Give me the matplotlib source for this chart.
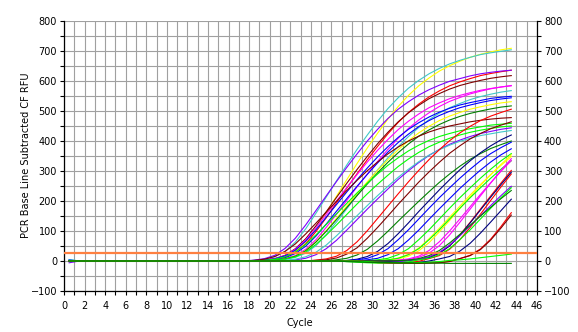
import numpy as np
import matplotlib
matplotlib.use("Agg")
import matplotlib.pyplot as plt
from matplotlib.ticker import MultipleLocator

CYCLES = np.arange(1, 45)
THRESHOLD = 27

YELLOW = "#FFFF00"; CYAN = "#40C8C8"; RED = "#FF0000"; PURPLE = "#8000FF"
DKRED = "#800000"; MAGENTA = "#FF00FF"; BLUE = "#0000FF"; DKGREEN = "#008000"
LIME = "#00FF00"; NAVY = "#000080"

# each well: (colour, cycle-1 reading, first cycle of listed readings, readings up to cycle 44)
yellow_top = (YELLOW, 0, 20, [2, 6, 15, 33, 64, 109, 161, 216, 271, 325, 377, 426, 473, 515, 552, 584, 610, 633, 651, 666, 679, 689, 697, 704, 709])
cyan_top = (CYAN, 5, 19, [2, 6, 14, 32, 63, 107, 159, 213, 267, 320, 372, 420, 466, 508, 544, 576, 602, 624, 642, 657, 669, 679, 688, 694, 699, 704])
red_early = (RED, 0, 20, [2, 5, 13, 29, 57, 98, 144, 194, 243, 291, 338, 382, 424, 462, 495, 523, 547, 567, 584, 597, 608, 618, 625, 631, 636])
purple_early = (PURPLE, -6, 19, [3, 8, 19, 42, 76, 120, 168, 217, 265, 312, 357, 400, 439, 475, 506, 531, 553, 571, 586, 599, 608, 617, 624, 629, 633, 636])
dkred_early = (DKRED, 0, 20, [3, 8, 19, 41, 74, 117, 164, 212, 259, 305, 349, 391, 429, 464, 494, 519, 541, 558, 573, 585, 594, 602, 609, 614, 618])
magenta_early = (MAGENTA, 0, 20, [3, 8, 18, 39, 70, 111, 155, 200, 245, 288, 330, 369, 405, 438, 466, 490, 511, 527, 541, 552, 561, 569, 575, 580, 584])
magenta_early2 = (MAGENTA, 0, 21, [3, 8, 18, 39, 71, 112, 156, 202, 247, 290, 332, 372, 409, 442, 470, 494, 515, 532, 545, 557, 566, 574, 580, 585])
cyan_566 = (CYAN, 4, 21, [2, 5, 12, 26, 51, 88, 130, 174, 219, 262, 304, 344, 381, 415, 445, 471, 493, 511, 525, 538, 548, 556, 563, 568])
blue_1 = (BLUE, 3, 20, [3, 7, 17, 36, 66, 104, 146, 188, 230, 271, 310, 347, 381, 412, 439, 461, 480, 496, 509, 520, 528, 535, 542, 546, 549])
blue_2 = (BLUE, 0, 20, [2, 4, 11, 25, 49, 83, 123, 166, 208, 249, 289, 327, 363, 395, 423, 448, 468, 485, 499, 511, 520, 528, 535, 540, 544])
yellow_532 = (YELLOW, 0, 21, [3, 7, 16, 35, 64, 101, 142, 183, 224, 264, 302, 338, 371, 401, 427, 449, 468, 483, 495, 506, 514, 521, 527, 531])
dkgreen_519 = (DKGREEN, 0, 21, [3, 7, 16, 34, 63, 99, 138, 178, 218, 257, 294, 329, 361, 390, 416, 437, 455, 470, 482, 492, 500, 507, 513, 517])
dkred_479 = (DKRED, 0, 19, [2, 6, 15, 32, 57, 90, 126, 163, 199, 235, 269, 301, 330, 357, 380, 400, 416, 430, 441, 450, 457, 464, 469, 473, 476, 478])
green_459 = (LIME, -2, 20, [2, 6, 14, 30, 55, 87, 122, 157, 192, 227, 259, 290, 319, 344, 367, 386, 402, 415, 425, 434, 441, 447, 453, 456, 459])
green_455 = (LIME, 0, 21, [2, 6, 14, 30, 55, 86, 120, 155, 190, 224, 256, 286, 315, 340, 362, 381, 396, 409, 420, 429, 436, 442, 447, 450])
purple_449 = (PURPLE, 0, 22, [1, 4, 9, 21, 41, 69, 103, 138, 173, 207, 240, 272, 301, 328, 352, 372, 389, 403, 415, 425, 432, 439, 444])
cyan_428 = (CYAN, 0, 22, [2, 6, 14, 29, 53, 84, 117, 151, 185, 218, 249, 279, 306, 331, 353, 371, 386, 399, 409, 418, 424, 430, 435])
red_506 = (RED, 0, 25, [3, 7, 16, 35, 64, 101, 142, 183, 224, 264, 302, 338, 371, 401, 427, 449, 468, 483, 495, 506])
dkred_468 = (DKRED, 0, 25, [2, 4, 10, 23, 44, 76, 112, 150, 189, 226, 263, 297, 329, 359, 384, 407, 425, 441, 453, 464])
dkgreen_410 = (DKGREEN, 0, 26, [1, 4, 9, 20, 39, 67, 99, 133, 166, 199, 231, 262, 290, 316, 339, 358, 375, 388, 400])
navy_428 = (NAVY, 0, 28, [2, 6, 15, 32, 58, 91, 127, 165, 201, 237, 271, 304, 334, 361, 384, 404, 420])
blue_403 = (BLUE, 0, 28, [1, 4, 9, 21, 41, 71, 104, 140, 176, 211, 244, 276, 306, 334, 358, 378, 396])
blue_379 = (BLUE, 0, 29, [1, 4, 9, 21, 41, 70, 103, 139, 174, 208, 242, 273, 303, 330, 354, 374])
green_late1 = (LIME, 0, 30, [1, 4, 9, 21, 41, 71, 104, 140, 176, 211, 244, 276, 306, 334, 358])
yellow_late = (YELLOW, 0, 31, [1, 4, 10, 22, 43, 74, 109, 146, 183, 220, 255, 288, 319, 348])
yellow_late2 = (YELLOW, 0, 32, [3, 7, 16, 34, 61, 97, 135, 175, 214, 252, 288, 322, 354])
green_late3 = (LIME, 0, 31, [1, 4, 9, 21, 41, 71, 104, 140, 176, 211, 244, 276, 306, 334])
magenta_late1 = (MAGENTA, 0, 33, [2, 5, 12, 26, 51, 87, 129, 173, 217, 260, 302, 341])
magenta_late2 = (MAGENTA, 0, 33, [3, 7, 16, 35, 64, 100, 140, 181, 222, 261, 299, 335])
red_late1 = (RED, 0, 34, [2, 5, 12, 26, 51, 87, 129, 173, 217, 260, 302])
red_late2 = (RED, 0, 29, [-2, -4, -6, -7, -7, -6, -1, 8, 18, 39, 71, 112, 156, 202, 247, 290])
navy_late = (NAVY, 0, 34, [2, 5, 11, 26, 50, 86, 127, 170, 213, 255, 296])
purple_late = (PURPLE, 0, 29, [-2, -3, -4, -4, -3, 2, 6, 14, 29, 53, 84, 117, 151, 185, 218, 249])
green_late2 = (LIME, 0, 28, [-2, -4, -6, -7, -7, -6, -3, 4, 9, 21, 41, 71, 104, 140, 176, 211, 244])
dkgreen_late = (DKGREEN, 0, 33, [1, 3, 8, 18, 35, 60, 89, 119, 150, 179, 208, 235])
navy_late2 = (NAVY, 0, 30, [-2, -3, -4, -5, -6, -5, 0, 7, 15, 33, 59, 93, 130, 168, 206])
red_latest = (RED, 0, 30, [-2, -4, -5, -6, -7, -7, -6, -5, -1, 8, 19, 40, 73, 115, 161])
dkred_latest = (DKRED, 0, 30, [-3, -5, -6, -7, -8, -8, -7, -6, -2, 8, 18, 38, 70, 110, 153])
green_low = (LIME, 0, 30, [-2, -4, -5, -6, -6, -5, -4, -2, 2, 4, 7, 11, 15, 19, 23])
dkgreen_flat = (DKGREEN, 0, 28, [-2, -3, -4, -5, -5, -6, -6, -7, -7, -7, -8, -8, -8, -8, -8, -8, -8])

WELLS = [yellow_top, cyan_top, red_early, purple_early, dkred_early, magenta_early,
         magenta_early2, cyan_566, blue_1, blue_2, yellow_532, dkgreen_519, dkred_479,
         green_459, green_455, purple_449, cyan_428, red_506, dkred_468, dkgreen_410,
         navy_428, blue_403, blue_379, green_late1, yellow_late, yellow_late2,
         green_late3, magenta_late1, magenta_late2, red_late1, red_late2, navy_late,
         purple_late, green_late2, dkgreen_late, navy_late2, red_latest, dkred_latest,
         green_low, dkgreen_flat]

plt.rcParams['font.family'] = ['DejaVu Sans']
fig = plt.figure(figsize=(5.78, 3.32), dpi=100)
W, H = 578, 332
ax = fig.add_axes([64 / W, 1 - 291 / H, (537 - 64) / W, (291 - 21) / H])

x = CYCLES - 0.5
for color, first, start, vals in WELLS:
    y = np.zeros(len(CYCLES))
    y[0] = first
    y[start - 1:start - 1 + len(vals)] = vals
    ax.plot(x, y, color=color, lw=0.8, solid_joinstyle='miter')

ax.axhline(THRESHOLD, color="#FF8040", lw=1.6, zorder=5)

ax.set_xlim(0, 46)
ax.set_ylim(-100, 800)
ax.xaxis.set_major_locator(MultipleLocator(2))
ax.xaxis.set_minor_locator(MultipleLocator(1))
ax.yaxis.set_major_locator(MultipleLocator(100))
ax.yaxis.set_minor_locator(MultipleLocator(50))
ax.grid(which='both', color='#a0a0a0', lw=0.8)
ax.set_axisbelow(True)
ax.spines['top'].set_visible(False)
for s in ('left', 'right', 'bottom'):
    ax.spines[s].set_linewidth(0.9)
ax.tick_params(which='both', direction='out', length=3, width=0.8, labelsize=7,
               right=True, labelright=True, top=False, pad=2, colors='black')
ax.tick_params(axis='x', which='both', pad=4)

fig.text(26 / W, 1 - 155 / H, 'PCR Base Line Subtracted CF RFU', rotation=90,
         ha='center', va='center', fontsize=7)
fig.text(300 / W, 1 - 323 / H, 'Cycle', ha='center', va='center', fontsize=7)

fig.savefig('out.png', dpi=100)
